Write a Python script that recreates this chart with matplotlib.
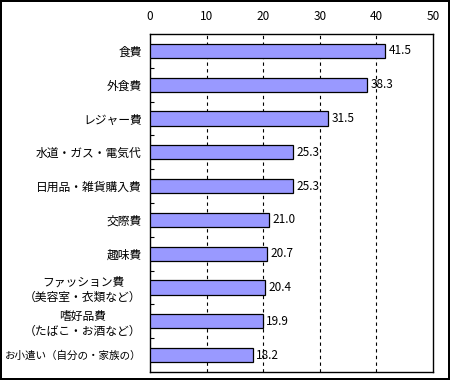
import matplotlib
matplotlib.use("Agg")
import matplotlib.pyplot as plt

plt.rcParams['font.family'] = ['Noto Sans CJK JP', 'DejaVu Sans']

categories = ["食費", "外食費", "レジャー費", "水道・ガス・電気代", "日用品・雑貨購入費",
              "交際費", "趣味費", "ファッション費\n（美容室・衣類など）",
              "嗜好品費\n（たばこ・お酒など）", "お小遣い（自分の・家族の）"]
values = [41.5, 38.3, 31.5, 25.3, 25.3, 21.0, 20.7, 20.4, 19.9, 18.2]
xticks = [0, 10, 20, 30, 40, 50]

fig = plt.figure(figsize=(4.5, 3.8), dpi=100)
fig.patch.set_facecolor('white')
fig.patch.set_edgecolor('black')
fig.patch.set_linewidth(1.5)
ax = fig.add_axes([150/450, 1-372/380, (433-150)/450, (372-34)/380])

n = len(categories)
ypos = list(range(n))
ax.barh(ypos, values, height=0.42, color='#9999FF', edgecolor='black', linewidth=0.9, zorder=3)
for y, v in zip(ypos, values):
    ax.text(v + 0.6, y, f"{v:.1f}", va='center', ha='left', fontsize=8.5, zorder=4)

ax.set_xlim(0, 50)
ax.set_ylim(n - 0.5, -0.5)
ax.set_xticks(xticks)
ax.xaxis.tick_top()
ax.tick_params(axis='x', length=0, labelsize=8.5, pad=8)
ax.set_yticks(ypos)
ax.set_yticklabels(categories, fontsize=8.5, multialignment='center')
ax.tick_params(axis='y', length=0, pad=6)
labels = ax.get_yticklabels()
labels[-1].set_fontsize(7.6)
ax.set_yticks([i + 0.5 for i in range(n - 1)], minor=True)
ax.tick_params(axis='y', which='minor', direction='in', length=3, width=0.8)
for x in xticks[1:-1]:
    ax.axvline(x, color='black', linestyle=(0, (3, 3)), linewidth=0.8, zorder=1)
for s in ax.spines.values():
    s.set_linewidth(1.0)

fig.savefig("out.png", dpi=100, facecolor=fig.get_facecolor(), edgecolor=fig.get_edgecolor())
